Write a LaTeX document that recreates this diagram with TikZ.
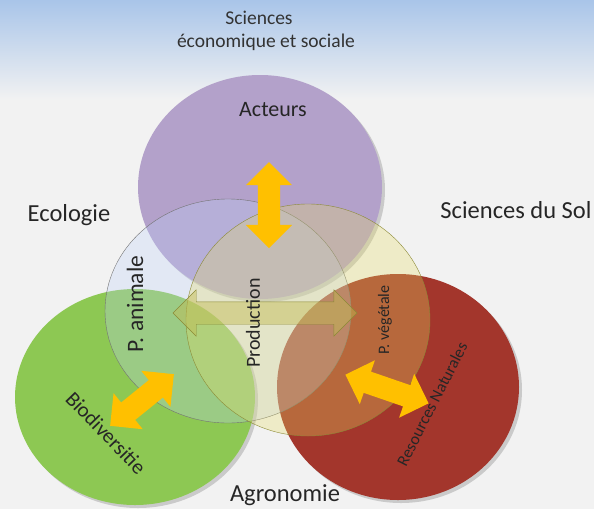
\documentclass[tikz,border=0pt]{standalone}
\usepackage{fontspec}
\setmainfont{Carlito}
\usetikzlibrary{shapes.geometric,shapes.arrows,shadows}

\definecolor{skytop}{HTML}{A9C5E9}
\definecolor{paper}{HTML}{F2F2F2}
\definecolor{lilac}{HTML}{B3A1CA}
\definecolor{paleblue}{HTML}{BED2FA}
\definecolor{paleyellow}{HTML}{E6DC64}
\definecolor{leaf}{HTML}{8DC853}
\definecolor{brick}{HTML}{A3362C}
\definecolor{amber}{HTML}{FFC000}
\definecolor{olive}{HTML}{8C8A36}

\tikzset{
  bubble/.style 2 args={ellipse, inner sep=0pt, minimum width=#1pt, minimum height=#2pt},
  soft/.style={drop shadow={opacity=0.35, shadow xshift=3pt, shadow yshift=-3pt}},
  bigarrow/.style={double arrow, inner xsep=0pt, inner ysep=11pt,
    double arrow head extend=12pt, fill=amber, minimum height=#1pt},
  outlbl/.style={font=\fontsize{24.5}{26}\selectfont, text=black!85},
  toplbl/.style={font=\fontsize{19.5}{21}\selectfont, text=black!80},
  inlbl/.style={font=\fontsize{#1}{#1}\selectfont, text=black!85, inner sep=0pt}
}

\begin{document}
\begin{tikzpicture}[x=1pt,y=-1pt]
\useasboundingbox (0,0) rectangle (594,509);
\fill[paper] (0,0) rectangle (594,509);
\shade[top color=skytop, bottom color=paper] (0,0) rectangle (594,100);

% cercles
\node[bubble={244}{224}, fill=lilac, soft] (actC) at (260,187) {};
\node[bubble={240}{216}, fill=leaf, soft] (bioC) at (135,397) {};
\node[bubble={242}{226}, fill=brick, soft] (solC) at (398,387) {};
\node[bubble={246}{224}, fill=paleblue, fill opacity=0.3, draw=black!55, thin] (aniC) at (228,311) {};
\node[bubble={244}{232}, fill=paleyellow, fill opacity=0.3, draw=olive, thin] (prodC) at (308,320) {};

% fleches
\node[bigarrow=86, rotate=90] (vArr) at (269,205) {};
\node[bigarrow=184, fill=paleyellow!60!olive, fill opacity=0.45, draw=olive] (hArr) at (265,313) {};
\node[bigarrow=82, rotate=39] (lArr) at (142,400) {};
\node[bigarrow=88, rotate=-19] (rArr) at (387,389) {};

% textes
\node[toplbl] (sci1) at (259,18) {Sciences};
\node[toplbl] (sci2) at (266,42) {économique et sociale};
\node[outlbl] (ecol) at (69,215) {Ecologie};
\node[outlbl] (sol) at (516,210) {Sciences du Sol};
\node[outlbl] (agro) at (285,495) {Agronomie};
\node[inlbl=22, rotate=0] (act) at (273,110) {Acteurs};
\node[inlbl=23.5, rotate=90] (pani) at (135,304) {P. animale};
\node[inlbl=20, rotate=90] (prod) at (253,323) {Production};
\node[inlbl=16, rotate=90] (pveg) at (385,320) {P. végétale};
\node[inlbl=16.5, rotate=63] (res) at (432,404) {Resources Naturales};
\node[inlbl=21, rotate=-46] (bio) at (106,433) {Biodiversitie};
\end{tikzpicture}
\end{document}
